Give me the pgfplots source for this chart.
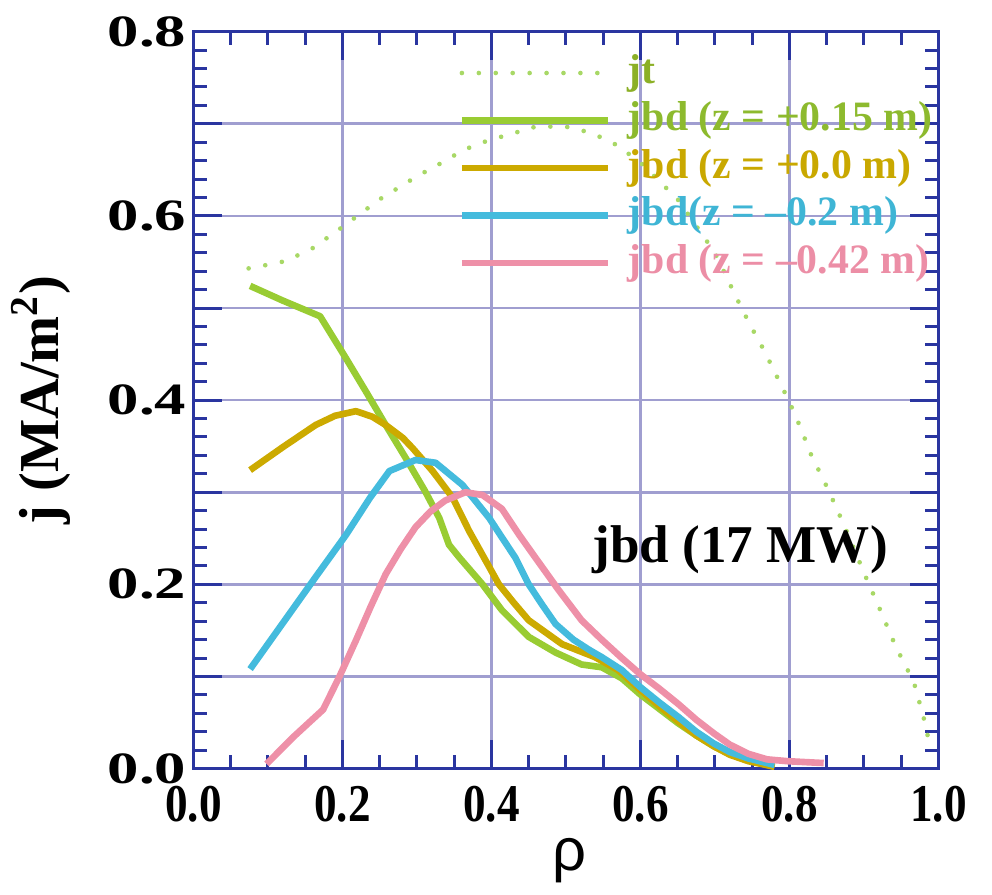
\documentclass[border=0pt]{standalone}
\usepackage{graphicx}
\usepackage{fontspec}
\setmainfont{Liberation Serif}
\newfontfamily\sansrho{Liberation Sans}
\usepackage{pgfplots}
\pgfplotsset{compat=1.18}
\definecolor{axc}{HTML}{2A35A0}
\definecolor{gridc}{HTML}{A09ED0}
\definecolor{jtc}{HTML}{A8D866}
\definecolor{grn}{HTML}{99CC33}
\definecolor{gld}{HTML}{CCAA00}
\definecolor{cyn}{HTML}{44BBDD}
\definecolor{pnk}{HTML}{EE90A8}
\definecolor{jttxt}{HTML}{8CB026}
\definecolor{grntxt}{HTML}{8DBA2E}
\definecolor{gldtxt}{HTML}{C9A800}
\definecolor{cyntxt}{HTML}{3FB5D5}
\definecolor{pnktxt}{HTML}{EC8EA6}
\newcommand\ylab[1]{\scalebox{1.4}[1]{#1}}
\newcommand\xlab[1]{\scalebox{0.85}[1]{#1}}
\begin{document}
\begin{tikzpicture}
\begin{axis}[
  scale only axis,
  width=224.4pt, height=222pt,
  xmin=0, xmax=1, ymin=0, ymax=0.8,
  clip=false,
  xtick={0,0.2,0.4,0.6,0.8,1.0},
  xticklabels={\xlab{0.0},\xlab{0.2},\xlab{0.4},\xlab{0.6},\xlab{0.8},\xlab{1.0}},
  ytick={0,0.1,0.2,0.3,0.4,0.5,0.6,0.7,0.8},
  yticklabels={\ylab{0.0},,\ylab{0.2},,\ylab{0.4},,\ylab{0.6},,\ylab{0.8}},
  minor x tick num=3,
  minor y tick num=4,
  xtick pos=both, ytick pos=both,
  tick align=inside,
  major tick length=8.5pt,
  minor tick length=4pt,
  every tick/.style={axc, line width=0.9pt},
  axis line style={draw=axc, line width=1pt},
  grid=major,
  major grid style={draw=gridc, line width=0.8pt},
  xticklabel style={font=\fontsize{16}{16}\selectfont\bfseries, inner sep=2pt, yshift=-3pt},
  yticklabel style={font=\fontsize{13.5}{13.5}\selectfont\bfseries, inner sep=2pt},
  xlabel={\sansrho\fontsize{18}{18}\selectfont ρ},
  xlabel style={at={(axis description cs:0.505,-0.125)}, anchor=center},
  ylabel={\fontsize{17}{17}\selectfont\bfseries j (MA/m$^{\mathbf{2}}$)},
  ylabel style={at={(axis description cs:-0.15,0.5)}, anchor=south},
  legend style={draw=none, fill=none, at={(rel axis cs:0.355,0.977)}, anchor=north west,
    font=\fontsize{12.6}{12.6}\selectfont\bfseries, row sep=0pt, column sep=4pt, inner sep=0pt,
    nodes={inner sep=1pt, text height=9.3pt, text depth=3pt}},
  legend cell align=left,
  legend image code/.code={\draw[#1] (0pt,0pt) -- (44pt,0pt);},
]
\addplot[jtc, line width=1.4pt, line cap=round, dash pattern=on 0pt off 5.1pt] coordinates {
(0.074,0.543)(0.10,0.547)(0.124,0.551)(0.16,0.565)(0.2,0.588)(0.25,0.618)(0.3,0.643)(0.334,0.658)(0.357,0.669)(0.378,0.677)(0.404,0.684)(0.428,0.689)(0.452,0.696)(0.477,0.697)(0.499,0.697)(0.521,0.693)(0.545,0.686)(0.568,0.677)(0.6,0.658)(0.65,0.618)(0.7,0.56)(0.729,0.511)(0.747,0.482)(0.766,0.454)(0.783,0.426)(0.800,0.398)(0.815,0.37)(0.829,0.341)(0.852,0.303)(0.873,0.265)(0.902,0.209)(0.922,0.172)(0.943,0.132)(0.967,0.094)(0.980,0.056)(0.99,0.02)};
\addlegendentry{\textcolor{jttxt}{jt}}
\addplot[grn, line width=2pt, line join=round] coordinates {
(0.076,0.524)(0.12,0.508)(0.170,0.491)(0.205,0.445)(0.231,0.410)(0.258,0.373)(0.285,0.337)(0.311,0.301)(0.330,0.272)(0.343,0.243)(0.357,0.229)(0.388,0.200)(0.414,0.172)(0.450,0.143)(0.486,0.126)(0.521,0.113)(0.548,0.110)(0.575,0.098)(0.599,0.081)(0.625,0.065)(0.651,0.049)(0.675,0.036)(0.699,0.024)(0.72,0.016)(0.745,0.009)(0.78,0.002)};
\addlegendentry{\textcolor{grntxt}{jbd (z = +0.15 m)}}
\addplot[gld, line width=2pt, line join=round] coordinates {
(0.076,0.324)(0.12,0.349)(0.164,0.373)(0.19,0.383)(0.218,0.388)(0.24,0.382)(0.258,0.373)(0.281,0.359)(0.294,0.348)(0.321,0.323)(0.348,0.294)(0.370,0.258)(0.390,0.229)(0.410,0.200)(0.430,0.180)(0.450,0.161)(0.495,0.135)(0.539,0.121)(0.570,0.107)(0.599,0.086)(0.625,0.068)(0.651,0.051)(0.675,0.036)(0.699,0.024)(0.72,0.015)(0.745,0.008)(0.78,0.002)};
\addlegendentry{\textcolor{gldtxt}{jbd (z = +0.0 m)}}
\addplot[cyn, line width=2pt, line join=round] coordinates {
(0.076,0.108)(0.12,0.158)(0.164,0.208)(0.205,0.254)(0.237,0.294)(0.263,0.323)(0.298,0.335)(0.325,0.332)(0.361,0.308)(0.397,0.272)(0.414,0.251)(0.432,0.229)(0.450,0.200)(0.468,0.178)(0.486,0.157)(0.510,0.140)(0.531,0.129)(0.548,0.121)(0.575,0.107)(0.599,0.089)(0.625,0.072)(0.651,0.056)(0.675,0.040)(0.699,0.027)(0.72,0.018)(0.745,0.011)(0.78,0.004)};
\addlegendentry{\textcolor{cyntxt}{jbd(z = --0.2 m)}}
\addplot[pnk, line width=2pt, line join=round] coordinates {
(0.098,0.005)(0.135,0.035)(0.174,0.064)(0.196,0.100)(0.218,0.139)(0.238,0.176)(0.258,0.211)(0.278,0.238)(0.298,0.262)(0.318,0.279)(0.338,0.291)(0.365,0.300)(0.388,0.297)(0.414,0.282)(0.437,0.254)(0.459,0.229)(0.490,0.194)(0.521,0.161)(0.548,0.140)(0.575,0.120)(0.599,0.103)(0.625,0.087)(0.651,0.070)(0.675,0.053)(0.699,0.038)(0.72,0.026)(0.745,0.016)(0.77,0.010)(0.798,0.008)(0.846,0.006)};
\addlegendentry{\textcolor{pnktxt}{jbd (z = --0.42 m)}}
\node[anchor=base, font=\fontsize{16}{16}\selectfont\bfseries] at (axis cs:0.734,0.224) {jbd (17 MW)};
\path (rel axis cs:-0.254,-0.157) rectangle (rel axis cs:1.072,1.043);
\end{axis}
\end{tikzpicture}
\end{document}
